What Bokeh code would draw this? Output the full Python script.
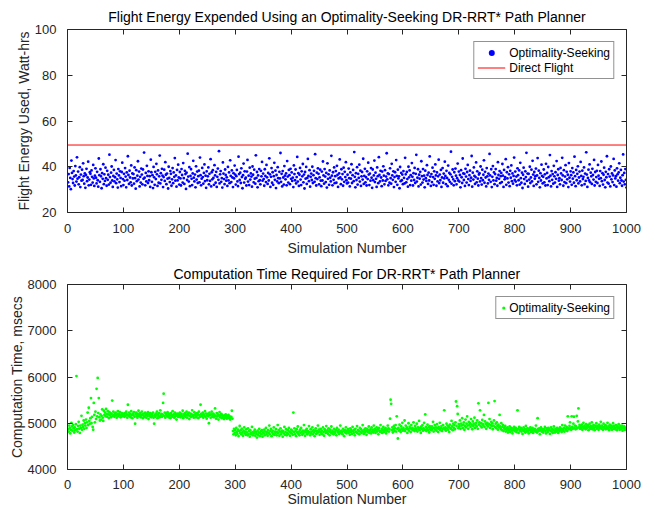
from bokeh.plotting import figure
from bokeh.layouts import column
from bokeh.models import LinearAxis, Range1d, FixedTicker, Legend, LegendItem
from bokeh.embed import file_html
from bokeh.resources import INLINE

# ---------------- data ----------------
title_top = "Flight Energy Expended Using an Optimality-Seeking DR-RRT* Path Planner"
title_bottom = "Computation Time Required For DR-RRT* Path Planner"
xlabel = "Simulation Number"
ylabel_top = "Flight Energy Used, Watt-hrs"
ylabel_bottom = "Computation Time, msecs"
series_opt = "Optimality-Seeking"
series_direct = "Direct Flight"

x_ticks = [0, 100, 200, 300, 400, 500, 600, 700, 800, 900, 1000]
energy_ticks = [20, 40, 60, 80, 100]
time_ticks = [4000, 5000, 6000, 7000, 8000]

direct_flight_energy = 49.5

energy = [
33.2, 36.8, 31.4, 39.5, 35.1, 30.2, 42.7, 37.3, 34.6, 32.9, 38.1, 35.7, 31.8, 40.3, 36.2, 33.5, 44.1, 34.8, 37.9, 32.3, 35.4, 39.8, 31.1, 36.6, 33.9, 38.7, 34.2, 41.5, 35.9, 32.6, 37.1, 30.8, 36.4, 39.1, 33.7, 35.3, 42.2, 31.9, 34.4, 37.6, 36.9, 32.1, 38.4, 35.6, 33.1, 40.8, 34.9, 31.6, 36.1, 39.3,
35.2, 32.7, 37.8, 34.1, 31.3, 43.6, 36.3, 33.4, 38.9, 35.8, 30.6, 37.2, 34.7, 41.1, 32.4, 36.7, 33.8, 39.6, 35.0, 31.7, 38.2, 34.3, 36.5, 32.2, 45.3, 35.5, 33.0, 37.4, 40.1, 34.0, 31.2, 36.0, 38.6, 33.6, 35.4, 42.9, 32.8, 37.0, 34.5, 30.9, 39.0, 36.2, 33.3, 38.0, 35.1, 31.5, 37.7, 41.8, 34.6, 32.0,
36.9, 33.9, 39.4, 35.7, 31.0, 37.5, 34.2, 44.6, 36.4, 32.5, 38.3, 35.3, 33.2, 40.6, 31.8, 37.1, 34.9, 36.8, 32.6, 39.7, 35.0, 30.4, 38.5, 33.7, 36.1, 42.4, 34.4, 37.9, 31.4, 35.6, 33.1, 39.2, 36.6, 32.3, 38.8, 34.7, 46.2, 35.2, 31.9, 37.3, 33.6, 40.4, 36.0, 32.9, 38.0, 34.1, 35.9, 31.2, 43.1, 37.6,
33.4, 36.3, 30.7, 39.9, 35.4, 32.1, 37.8, 34.6, 41.3, 36.7, 31.6, 38.4, 33.0, 35.8, 44.9, 32.7, 37.2, 34.3, 39.1, 36.1, 31.1, 35.5, 38.7, 33.8, 42.0, 36.5, 32.4, 37.0, 34.8, 30.5, 40.0, 35.1, 33.3, 38.1, 36.9, 31.7, 34.5, 39.4, 32.8, 37.5, 35.6, 43.8, 33.9, 36.2, 31.3, 38.6, 34.0, 40.9, 35.3, 32.2,
37.7, 34.9, 31.8, 39.0, 36.4, 33.1, 41.6, 35.0, 32.5, 38.2, 36.8, 30.3, 37.4, 34.2, 45.7, 35.7, 33.5, 39.8, 31.5, 36.0, 38.9, 34.7, 32.0, 37.1, 42.6, 35.2, 33.6, 36.6, 31.0, 40.2, 34.4, 37.9, 32.9, 35.9, 38.3, 33.2, 44.0, 36.3, 31.9, 34.8, 39.5, 35.5, 32.6, 37.3, 41.0, 33.7, 36.1, 30.8, 38.0, 34.1,
35.8, 39.7, 32.3, 36.9, 33.8, 43.3, 31.4, 37.6, 34.5, 38.5, 35.1, 32.1, 40.7, 36.2, 33.0, 37.8, 31.2, 35.6, 39.2, 34.3, 46.8, 32.7, 36.7, 38.1, 33.4, 35.0, 30.9, 41.9, 37.0, 34.6, 32.4, 38.8, 36.4, 33.9, 35.4, 31.6, 39.9, 34.0, 37.5, 32.8, 42.8, 36.0, 33.3, 38.4, 35.3, 31.1, 37.2, 34.9, 40.5, 36.6,
32.2, 35.9, 38.6, 33.6, 31.5, 44.4, 36.8, 34.2, 37.4, 32.9, 39.3, 35.5, 30.6, 36.3, 41.4, 33.1, 38.0, 34.7, 35.2, 31.8, 37.9, 43.0, 33.5, 36.1, 32.0, 39.6, 34.4, 37.1, 35.7, 31.3, 40.1, 36.5, 33.2, 38.7, 34.8, 32.6, 45.0, 35.1, 37.7, 31.0, 36.2, 33.7, 39.0, 34.1, 32.3, 38.2, 35.8, 42.1, 33.9, 37.0,
34.6, 31.7, 38.9, 36.0, 33.3, 40.8, 35.4, 32.5, 37.3, 34.0, 43.7, 36.7, 31.2, 35.6, 39.4, 33.0, 37.6, 32.1, 35.9, 41.7, 34.3, 38.3, 30.7, 36.4, 33.6, 39.8, 35.0, 32.8, 37.8, 34.9, 46.0, 33.4, 36.9, 31.4, 38.1, 35.3, 32.2, 40.3, 36.1, 34.5, 37.1, 31.9, 42.5, 35.7, 33.1, 38.6, 36.3, 32.4, 39.1, 34.7,
37.5, 33.8, 35.2, 31.1, 40.6, 36.8, 34.1, 38.8, 32.7, 35.5, 44.3, 33.5, 37.2, 31.6, 36.5, 39.5, 34.4, 32.0, 38.0, 35.8, 41.2, 33.2, 36.6, 30.5, 37.7, 34.8, 39.9, 32.5, 35.1, 43.4, 36.0, 33.7, 38.5, 31.3, 35.6, 37.0, 34.2, 40.0, 32.9, 36.3, 38.2, 33.4, 45.5, 35.0, 31.8, 37.4, 34.6, 39.3, 36.9, 32.3,
35.4, 38.7, 33.9, 31.5, 37.9, 34.0, 42.3, 36.2, 32.6, 39.0, 35.7, 33.3, 37.3, 30.9, 41.5, 34.7, 36.7, 32.1, 38.4, 35.2, 33.6, 44.8, 36.1, 31.9, 37.6, 34.3, 39.7, 32.8, 35.9, 38.1, 33.0, 40.4, 36.4, 31.2, 34.9, 37.1, 43.2, 35.3, 32.4, 38.9, 34.5, 36.8, 31.7, 39.6, 33.4, 37.8, 35.5, 42.0, 34.1, 32.7,
36.5, 33.1, 39.2, 35.0, 31.4, 37.5, 34.8, 41.1, 32.9, 36.3, 38.6, 33.7, 46.4, 35.6, 31.0, 37.2, 34.2, 39.8, 32.2, 36.9, 35.1, 40.9, 33.5, 38.3, 31.6, 35.8, 37.7, 34.4, 43.5, 32.5, 36.0, 39.1, 33.2, 35.4, 31.8, 38.0, 34.6, 41.8, 36.6, 32.0, 37.0, 33.9, 39.4, 35.2, 30.8, 38.8, 34.1, 36.2, 42.7, 33.3,
37.4, 34.7, 31.2, 39.7, 35.9, 32.8, 44.2, 36.4, 33.6, 38.2, 35.3, 31.5, 37.9, 34.0, 40.2, 36.1, 32.3, 38.5, 33.8, 35.7, 45.9, 34.5, 37.1, 31.9, 36.8, 33.0, 39.3, 35.0, 32.6, 41.3, 36.2, 34.3, 38.0, 31.1, 35.5, 37.6, 33.4, 42.9, 36.0, 32.1, 38.7, 34.9, 35.8, 30.6, 39.9, 33.7, 37.3, 34.1, 36.6, 32.4,
38.1, 35.1, 32.7, 43.9, 36.7, 33.2, 37.7, 34.6, 31.3, 40.0, 35.4, 38.4, 32.0, 36.3, 33.9, 41.6, 35.6, 31.8, 37.2, 34.2, 39.5, 32.9, 36.9, 45.2, 33.5, 35.2, 38.9, 31.4, 36.5, 34.8, 37.8, 32.2, 42.4, 35.9, 33.1, 39.0, 34.4, 36.1, 31.0, 38.3, 35.0, 33.8, 40.7, 36.4, 32.5, 37.4, 34.0, 44.5, 35.7, 31.6,
36.8, 33.3, 39.6, 35.5, 32.1, 38.0, 34.7, 41.0, 36.2, 31.7, 37.5, 33.6, 35.8, 43.1, 32.8, 36.6, 34.1, 38.6, 31.2, 35.3, 39.4, 33.0, 37.0, 34.9, 42.2, 36.0, 32.4, 38.2, 35.1, 31.5, 40.5, 34.3, 37.3, 33.4, 36.7, 46.6, 32.6, 35.6, 38.8, 34.5, 31.9, 37.6, 33.7, 39.2, 36.1, 32.3, 35.0, 41.4, 34.0, 37.9,
33.5, 36.4, 31.0, 38.5, 35.4, 32.9, 43.6, 37.1, 34.2, 36.9, 31.6, 39.1, 35.7, 33.1, 37.7, 40.8, 34.6, 32.0, 36.3, 38.3, 33.8, 35.2, 44.7, 31.3, 37.4, 34.4, 39.7, 36.0, 32.5, 35.5, 41.9, 33.2, 38.0, 34.8, 31.8, 36.6, 37.2, 33.6, 40.1, 35.0, 32.2, 38.7, 34.1, 36.5, 42.8, 33.0, 37.8, 35.3, 31.4, 39.4,
35.8, 32.7, 37.0, 34.3, 45.6, 36.2, 33.4, 38.9, 31.1, 35.6, 40.3, 34.0, 37.5, 32.4, 36.8, 39.0, 33.9, 35.1, 31.7, 42.0, 36.4, 34.7, 38.1, 32.8, 35.9, 37.3, 33.3, 41.2, 36.1, 31.2, 38.6, 34.5, 35.4, 43.3, 32.1, 37.6, 34.9, 39.8, 33.1, 36.7, 31.5, 38.2, 35.2, 40.6, 33.7, 37.1, 32.6, 36.0, 44.0, 34.2,
37.9, 33.5, 35.7, 31.9, 39.3, 36.3, 34.1, 38.4, 32.2, 41.7, 35.0, 33.0, 37.4, 30.7, 36.5, 39.6, 34.6, 32.5, 38.0, 35.5, 46.1, 33.8, 37.0, 31.3, 36.9, 34.4, 40.0, 32.9, 35.3, 38.7, 33.6, 42.6, 36.6, 31.6, 37.7, 34.8, 35.9, 39.2, 32.3, 36.2, 43.8, 33.4, 38.3, 35.1, 31.0, 37.2, 34.0, 40.9, 36.0, 32.7,
35.6, 38.8, 33.2, 36.7, 31.8, 41.3, 34.9, 37.3, 32.0, 39.9, 35.4, 33.7, 45.1, 36.1, 31.4, 38.1, 34.3, 36.8, 32.6, 40.4, 35.8, 33.1, 37.6, 34.7, 42.5, 31.2, 36.4, 38.9, 33.9, 35.0, 32.3, 39.5, 37.1, 34.2, 43.9, 36.2, 31.7, 38.5, 33.3, 35.7, 40.7, 32.8, 37.8, 34.5, 36.5, 31.1, 41.6, 35.2, 33.5, 38.0,
36.3, 32.1, 39.4, 34.8, 37.5, 33.0, 44.4, 35.9, 31.5, 38.6, 34.1, 36.9, 40.2, 32.7, 35.3, 37.9, 33.6, 42.1, 36.0, 31.9, 38.3, 34.6, 35.6, 39.7, 32.4, 37.0, 33.8, 46.3, 36.6, 31.2, 35.1, 38.7, 34.0, 41.0, 33.2, 37.4, 35.8, 32.5, 39.1, 36.4, 34.4, 43.0, 31.8, 37.7, 33.4, 35.5, 38.2, 32.9, 40.8, 36.1,
34.7, 31.6, 38.1, 35.0, 42.3, 33.7, 37.2, 32.2, 36.5, 39.6, 34.2, 31.0, 37.8, 35.4, 44.6, 33.1, 36.8, 32.6, 38.9, 35.7, 31.4, 40.1, 34.5, 37.1, 33.3, 36.2, 43.4, 32.0, 38.4, 34.9, 35.9, 31.3, 39.3, 36.7, 33.9, 37.5, 41.5, 32.8, 35.2, 38.6, 34.0, 31.7, 36.3, 45.4, 33.5, 37.3, 32.3, 39.0, 34.3, 30.9,
]

comp_time = [
4870, 4820, 4950, 4900, 4780, 4860, 5010, 4930, 4840, 4960, 4890, 4800, 4910, 4850, 4980, 6020, 4870, 4820, 4940, 5030, 4880, 4790, 4950, 4900, 5160, 4860, 4970, 4920, 5060, 4880, 5000, 4950, 5080, 4900, 5020, 5230, 4960, 5335, 5050, 4990, 5110, 5545, 5000, 5140, 4920, 4860, 5440, 5180, 5020, 5250,
5090, 5745, 5150, 5980, 5220, 5545, 5130, 5060, 5190, 5080, 5160, 5300, 5120, 5050, 5270, 5180, 5230, 5150, 5310, 5200, 5140, 5260, 5190, 5110, 5240, 5170, 5220, 5130, 5200, 5490, 5160, 5250, 5180, 5140, 5210, 5230, 5170, 5120, 5190, 5260, 5150, 5200, 5180, 5240, 5130, 5170, 5220, 5190, 5150, 5210,
5180, 5140, 5220, 5160, 5250, 5190, 5120, 5400, 5170, 5230, 5150, 5200, 5130, 5260, 5180, 5110, 5210, 5170, 5240, 5140, 4990, 5190, 5230, 5160, 5120, 5200, 5270, 5150, 5180, 5220, 5130, 5170, 5250, 5190, 5110, 5160, 5210, 5140, 5230, 5180, 5120, 5200, 5160, 5240, 5090, 5190, 5150, 5220, 5170, 5130,
5200, 5160, 5230, 5120, 4990, 5180, 5140, 5210, 5170, 5250, 5110, 5190, 5150, 5220, 5130, 5280, 5170, 5200, 5140, 5190, 5440, 5640, 5160, 5230, 5120, 5180, 5210, 5150, 5240, 5170, 5130, 5200, 5160, 5110, 5220, 5180, 5140, 5260, 5170, 5190, 5120, 5230, 5150, 5200, 5080, 5170, 5210, 5140, 5190, 5160,
5230, 5130, 5180, 5200, 5150, 5270, 5110, 5190, 5160, 5220, 5140, 5180, 5250, 5120, 5200, 5170, 5230, 5090, 5160, 5210, 5140, 5190, 5280, 5150, 5180, 5120, 5240, 5170, 5200, 5130, 5160, 5220, 5190, 5110, 5250, 5170, 5140, 5400, 5200, 5150, 5180, 5230, 5120, 5190, 5160, 5260, 5140, 5210, 5100, 5170,
5200, 5150, 5000, 5230, 5180, 5120, 5190, 5250, 5140, 5170, 5210, 5130, 5180, 5320, 5160, 5100, 5220, 5150, 5190, 5080, 5170, 5240, 5130, 5160, 5200, 5110, 5180, 5140, 5150, 5090, 5170, 5120, 5190, 5140, 5100, 5160, 5130, 5180, 5110, 5150, 5080, 5120, 5140, 5270, 5100, 4830, 4760, 4880, 4790, 4850,
4740, 4900, 4810, 4770, 4860, 4720, 4830, 4940, 4790, 4850, 4760, 4880, 4800, 4730, 4840, 4910, 4780, 4820, 4750, 4870, 4800, 4740, 4890, 4770, 4830, 4710, 4850, 4790, 4760, 4920, 4800, 4740, 4820, 4780, 4860, 4730, 4810, 4770, 4690, 4840, 4750, 4800, 4880, 4720, 4790, 4830, 4760, 4850, 4710, 4800,
4780, 4860, 4740, 4820, 4900, 4770, 4810, 4730, 4850, 4790, 4950, 4760, 4830, 4880, 4720, 4800, 4840, 4770, 4910, 4750, 4820, 4790, 4870, 4740, 4810, 4960, 4780, 4850, 4730, 4820, 4890, 4760, 4800, 4840, 4710, 4830, 4780, 4920, 4750, 4810, 4870, 4740, 4790, 4850, 4770, 4900, 4820, 4730, 4800, 4860,
4780, 4840, 4750, 5230, 4810, 4890, 4760, 4830, 4720, 4870, 4800, 4930, 4770, 4820, 4740, 4860, 4790, 4900, 4810, 4750, 4840, 4780, 4960, 4820, 4730, 4850, 4800, 4880, 4760, 4830, 4790, 4940, 4810, 4740, 4870, 4780, 4820, 4910, 4760, 4850, 4800, 4720, 4840, 4890, 4770, 4830, 4790, 4950, 4810, 4860,
4750, 4820, 4880, 4790, 4840, 4760, 4910, 4810, 4730, 4870, 4830, 4790, 4940, 4800, 4850, 4770, 4890, 4820, 4740, 4860, 4800, 4930, 4780, 4840, 4810, 4760, 4880, 4820, 4790, 4850, 4740, 4900, 4830, 4800, 4860, 4770, 4820, 4950, 4790, 4840, 4810, 4760, 4880, 4830, 4720, 4850, 4800, 4910, 4780, 4840,
4820, 4870, 4790, 4830, 4750, 4890, 4810, 4850, 4770, 4920, 4830, 4790, 4860, 4740, 4880, 4820, 4800, 4940, 4780, 4850, 4830, 4760, 4900, 4810, 4870, 4790, 4840, 4960, 4820, 4770, 4860, 4800, 4890, 4830, 4750, 4880, 4810, 4850, 4930, 4790, 4840, 4870, 4780, 4910, 4820, 4860, 4800, 4950, 4830, 4880,
4790, 4850, 4910, 4820, 4870, 4760, 4900, 4840, 4810, 4960, 4830, 4880, 4790, 4850, 4920, 4810, 4870, 4840, 4900, 4780, 4860, 4830, 4950, 4890, 4820, 4870, 5100, 5510, 5420, 4850, 4910, 4800, 4870, 4940, 4830, 4890, 4960, 4820, 5150, 4880, 4670, 4900, 4840, 4970, 4860, 4810, 4930, 4870, 5010, 4840,
4900, 4860, 5060, 4830, 4950, 4880, 4910, 4790, 4870, 5000, 4840, 4920, 4890, 4810, 4960, 4870, 4900, 4850, 5020, 4880, 4830, 4940, 4890, 4860, 4990, 4820, 4910, 4870, 5050, 4850, 4900, 4790, 4930, 4880, 4960, 4840, 4890, 5010, 4860, 5190, 4920, 4830, 4880, 4970, 4850, 4910, 4800, 4940, 4870, 4900,
4850, 4930, 4880, 5030, 4820, 4900, 4960, 4860, 4910, 4840, 4980, 4890, 4810, 4920, 4870, 5010, 4850, 4900, 4940, 4830, 4880, 4960, 4900, 5280, 4870, 4910, 4840, 4990, 4890, 4950, 4860, 4920, 4810, 4970, 4900, 4880, 5050, 4930, 4850, 4990, 4900, 4960, 4870, 5020, 5470, 4940, 5370, 5200, 4890, 4980,
4930, 5060, 4880, 4990, 4950, 5110, 4900, 4970, 5020, 4860, 4940, 5080, 4910, 4990, 5150, 4950, 4880, 5030, 4960, 5000, 4920, 5090, 4970, 4870, 5040, 4940, 4990, 5120, 4900, 4960, 5010, 4930, 5060, 4880, 5430, 4970, 5020, 5280, 4940, 5000, 4910, 5070, 4980, 4950, 5180, 4920, 5040, 4990, 4880, 4960,
5010, 4930, 5440, 4980, 5090, 4900, 4960, 5030, 4940, 5000, 4870, 4950, 5060, 5480, 4920, 4990, 4890, 5020, 4940, 4860, 4970, 4910, 5180, 4930, 4880, 5000, 4850, 4920, 4960, 4830, 4900, 4870, 4940, 4820, 4890, 4860, 4910, 4800, 4880, 4850, 4930, 4810, 4870, 4900, 4840, 4780, 4890, 4860, 4920, 4830,
4870, 4900, 4810, 4850, 5280, 4880, 4790, 4920, 4840, 4860, 4900, 4820, 4880, 4770, 4850, 4910, 4830, 4870, 4800, 4940, 4860, 4820, 4890, 4840, 4780, 4880, 4850, 4910, 4810, 4870, 4830, 4900, 4790, 4860, 4840, 4880, 4820, 4950, 4850, 4800, 5110, 4870, 4830, 4890, 4760, 4860, 4910, 4820, 4880, 4840,
4800, 4870, 4850, 4920, 4830, 4780, 4890, 4860, 4810, 4900, 4850, 4880, 4770, 4840, 4910, 4820, 4870, 4790, 4860, 4930, 4840, 4800, 4880, 4850, 4820, 4900, 4860, 4790, 4870, 4830, 4910, 4850, 4880, 4810, 4960, 4870, 4840, 4900, 4820, 4950, 4880, 4860, 4920, 4830, 5150, 4890, 4870, 4940, 5020, 4900,
4860, 5150, 4920, 4880, 4990, 5140, 4900, 4950, 4870, 4930, 5160, 4890, 5040, 5320, 4910, 4960, 4880, 4940, 4900, 4970, 4860, 4920, 5010, 4890, 4950, 4910, 4870, 4980, 4930, 4900, 4960, 4850, 4920, 4990, 4880, 4940, 4910, 5020, 4870, 4930, 4960, 4900, 4850, 4950, 4920, 5000, 4880, 4940, 4910, 4860,
4970, 4900, 4930, 5030, 4880, 4950, 4910, 4860, 4990, 4920, 4890, 4960, 4870, 4940, 4900, 5010, 4880, 4930, 4850, 4970, 4910, 4890, 4950, 4860, 4920, 5000, 4880, 4940, 4900, 4870, 4960, 4910, 4850, 4930, 4890, 4980, 4900, 4860, 4940, 4920, 4880, 4950, 4840, 4910, 4890, 4930, 4860, 4900, 4870, 4880,
]

sim_energy = list(range(1, len(energy) + 1))
sim_time = list(range(1, len(comp_time) + 1))

# ---------------- style ----------------
FONT = "Liberation Sans"
INK = "#262626"
FS_TICK = "13px"
FS_LABEL = "14px"
FS_LEG = "12px"


def style_axes(p, yticks):
    xb = p.below[0]
    yl = p.left[0]
    xb.ticker = FixedTicker(ticks=x_ticks)
    yl.ticker = FixedTicker(ticks=yticks)
    # box axes on top and right (ticks only, labels not drawn)
    top = LinearAxis(ticker=FixedTicker(ticks=x_ticks))
    right = LinearAxis(ticker=FixedTicker(ticks=yticks))
    p.add_layout(top, "above")
    p.add_layout(right, "right")
    for ax in [top, right]:
        ax.major_label_text_font_size = "1px"
        ax.major_label_text_color = None
        ax.major_label_standoff = 0
    for ax in [xb, yl, top, right]:
        ax.axis_line_color = INK
        ax.axis_line_width = 1
        ax.major_tick_line_color = INK
        ax.major_tick_in = 5
        ax.major_tick_out = 0
        ax.minor_tick_line_color = None
        ax.major_label_text_font = FONT
        ax.axis_label_text_font = FONT
        ax.axis_label_text_color = INK
        ax.axis_label_text_font_style = "normal"
        ax.axis_label_text_font_size = FS_LABEL
    for ax in [xb, yl]:
        ax.major_label_text_font_size = FS_TICK
        ax.major_label_text_color = INK
    p.xgrid.visible = False
    p.ygrid.visible = False
    p.outline_line_color = None
    p.title.text_font = FONT
    p.title.text_font_size = FS_LABEL
    p.title.text_font_style = "normal"
    p.title.text_color = "#000000"
    p.title.align = "center"
    return xb, yl


def style_legend(leg, gw, stand):
    leg.location = "top_right"
    leg.margin = 12
    leg.padding = 3
    leg.spacing = 0
    leg.glyph_width = gw
    leg.glyph_height = 15
    leg.label_height = 15
    leg.label_standoff = stand
    leg.label_text_font = FONT
    leg.label_text_font_size = FS_LEG
    leg.label_text_color = "#000000"
    leg.border_line_color = INK
    leg.border_line_width = 1
    leg.background_fill_color = "white"
    leg.background_fill_alpha = 1.0


# ---------------- top figure ----------------
p1 = figure(width=655, height=258, output_backend="svg", toolbar_location=None,
            x_range=Range1d(x_ticks[0], x_ticks[-1]),
            y_range=Range1d(energy_ticks[0], energy_ticks[-1]),
            title=title_top, min_border_left=67, min_border_right=29,
            min_border_top=29, min_border_bottom=46)
xb1, yl1 = style_axes(p1, energy_ticks)
p1.title.standoff = 9
xb1.axis_label = xlabel
yl1.axis_label = ylabel_top
xb1.major_label_standoff = 11
xb1.axis_label_standoff = 4
yl1.major_label_standoff = 11
yl1.axis_label_standoff = 0

r_opt = p1.scatter(sim_energy, energy, marker="circle", size=2.8,
                   fill_color="#0000ff", line_color=None)
r_dir = p1.line([x_ticks[0], x_ticks[-1]], [direct_flight_energy, direct_flight_energy],
                line_color="#ff0000", line_width=1)
leg1 = Legend(items=[LegendItem(label=series_opt, renderers=[r_opt]),
                     LegendItem(label=series_direct, renderers=[r_dir])])
p1.add_layout(leg1, "center")
style_legend(leg1, 28, 4)

# ---------------- bottom figure ----------------
p2 = figure(width=655, height=251, output_backend="svg", toolbar_location=None,
            x_range=Range1d(x_ticks[0], x_ticks[-1]),
            y_range=Range1d(time_ticks[0], time_ticks[-1]),
            title=title_bottom, min_border_left=67, min_border_right=29,
            min_border_top=26, min_border_bottom=39)
xb2, yl2 = style_axes(p2, time_ticks)
p2.title.standoff = 6
xb2.axis_label = xlabel
yl2.axis_label = ylabel_bottom
xb2.major_label_standoff = 10
xb2.axis_label_standoff = -1
yl2.major_label_standoff = 11
yl2.axis_label_standoff = 0

r_t = p2.scatter(sim_time, comp_time, marker="circle", size=2.8,
                 fill_color="#00ff00", line_color=None)
leg2 = Legend(items=[LegendItem(label=series_opt, renderers=[r_t])])
p2.add_layout(leg2, "center")
style_legend(leg2, 8, 2)

layout = column(p1, p2, spacing=0)
open("out.html", "w").write(file_html(layout, INLINE))
